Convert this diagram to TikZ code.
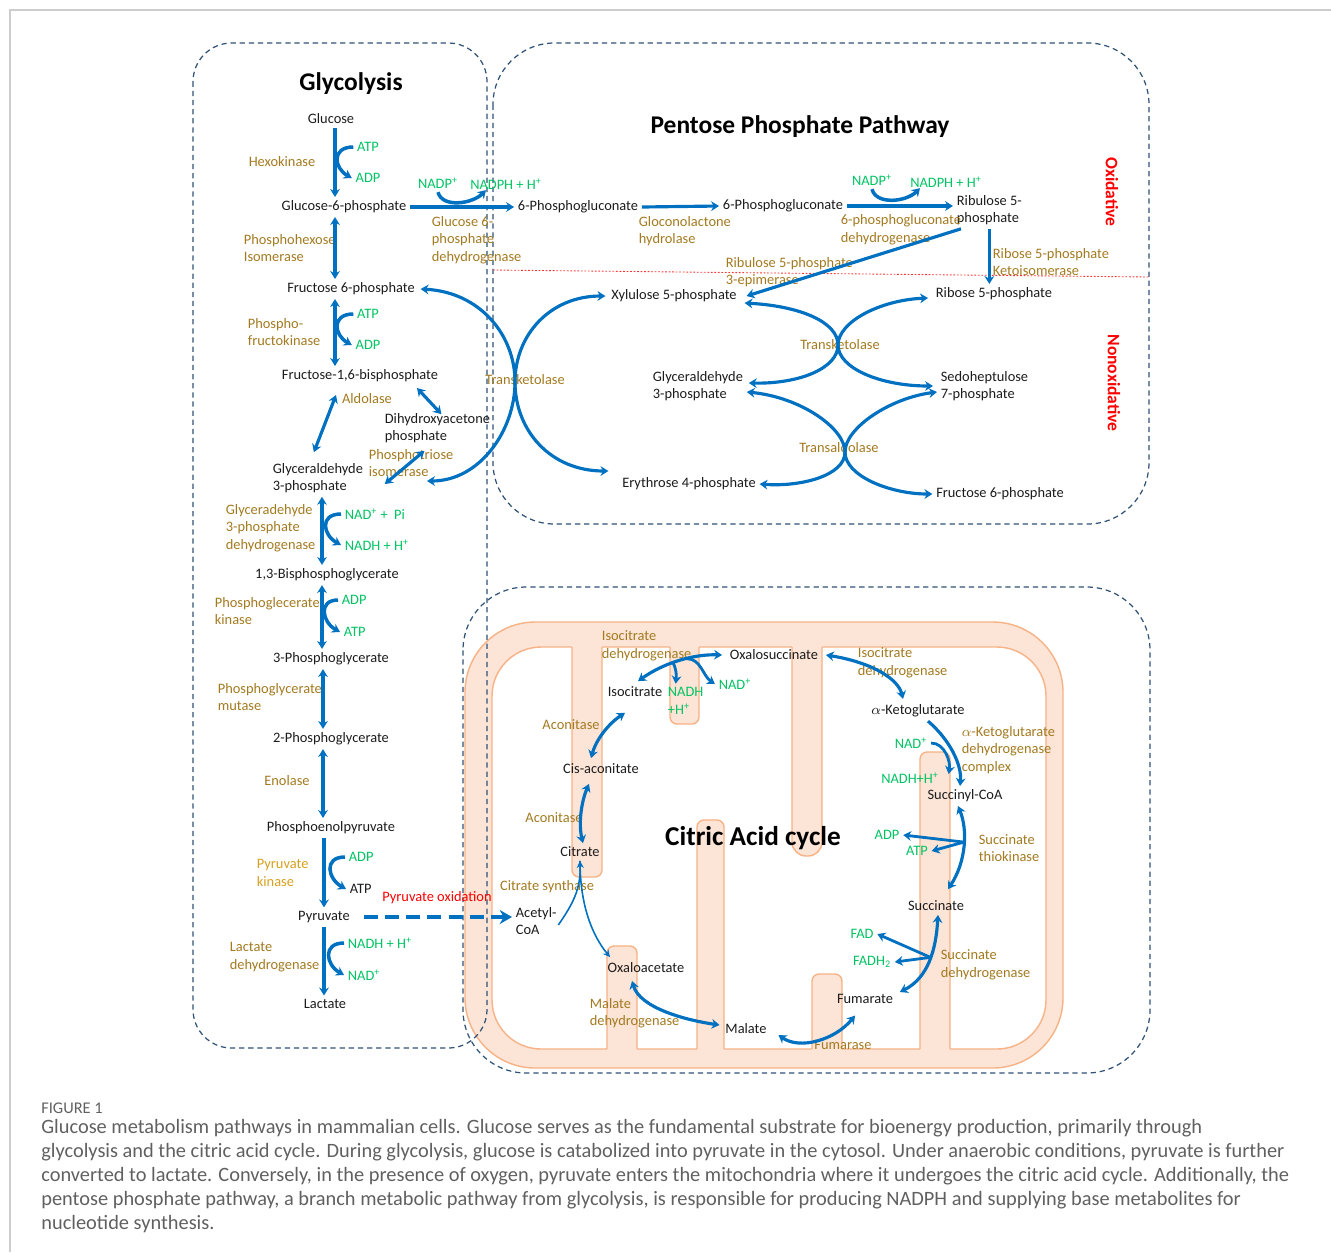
\documentclass[tikz,border=0pt]{standalone}
\usepackage{fontspec}
\setmainfont{Carlito}
\usetikzlibrary{arrows.meta}
\definecolor{pathblue}{RGB}{0,112,192}
\definecolor{enzbrown}{RGB}{163,122,32}
\definecolor{enzgold}{RGB}{214,160,30}
\definecolor{cofgreen}{RGB}{0,196,98}
\definecolor{boxblue}{RGB}{48,82,118}
\definecolor{mitofill}{RGB}{252,228,214}
\definecolor{mitoline}{RGB}{247,178,134}
\definecolor{capgray}{RGB}{96,96,96}
\definecolor{framegray}{RGB}{205,205,205}
\definecolor{metblack}{RGB}{28,28,28}

\begin{document}
\begin{tikzpicture}[x=0.02cm,y=-0.02cm,>={Stealth[length=4.5pt,width=5.5pt]},
  every node/.style={font=\fontsize{8.2}{10}\selectfont,inner sep=2pt,align=left},
  met/.style={text=metblack},
  enz/.style={text=enzbrown},
  cof/.style={text=cofgreen},
  title/.style={font=\fontsize{14.5}{17}\selectfont\bfseries,text=black},
  rxn/.style={->,draw=pathblue,line width=1.8pt},
  rev/.style={<->,draw=pathblue,line width=1.8pt},
  hook/.style={->,draw=pathblue,line width=2pt},
  branch/.style={->,draw=pathblue,line width=1.6pt},
  thinrxn/.style={-{Stealth[length=4pt,width=4pt]},draw=pathblue,line width=0.9pt},
  pathbox/.style={draw=boxblue,line width=0.7pt,dash pattern=on 3pt off 2.2pt},
  sidelabel/.style={font=\fontsize{10}{12}\selectfont\bfseries,text=red,rotate=-90}]
  \useasboundingbox (0,0) rectangle (1331,1252);
  \draw[framegray,line width=0.8pt] (1331,10) -- (10,10) -- (10,1252);

  % mitochondrion
  \filldraw[fill=mitofill,draw=mitoline,line width=0.8pt,rounded corners=40pt]
    (465,622) rectangle (1063,1068);
  \filldraw[fill=white,draw=mitoline,line width=0.8pt,rounded corners=28pt]
    (492,647) rectangle (1046,1049);
  \foreach \xa/\xb/\yb/\rc in {572/602/877/4pt, 670/699/724/4pt, 792/822/856/8pt}{
    \fill[mitofill,rounded corners=\rc] (\xa,640) -- (\xa,\yb) -- (\xb,\yb) -- (\xb,640);
    \draw[mitoline,line width=0.8pt,rounded corners=\rc] (\xa,647) -- (\xa,\yb) -- (\xb,\yb) -- (\xb,647);
  }
  \foreach \xa/\xb/\yt in {607/637/946, 697/724/820, 812/842/974, 920/950/752}{
    \fill[mitofill,rounded corners=4pt] (\xa,1056) -- (\xa,\yt) -- (\xb,\yt) -- (\xb,1056);
    \draw[mitoline,line width=0.8pt,rounded corners=4pt] (\xa,1049) -- (\xa,\yt) -- (\xb,\yt) -- (\xb,1049);
  }

  % pathway boxes
  \draw[pathbox,rounded corners=22pt] (193,43) rectangle (487,1048);
  \draw[pathbox,rounded corners=35pt] (493,43) rectangle (1149,524);
  \draw[pathbox,rounded corners=36pt] (463,587) rectangle (1150,1073);
  \draw[red!80,line width=0.5pt,dash pattern=on 1pt off 1pt] (493,270) -- (1149,277);

  % glycolysis
  \node[title] (glytitle) at (351,84) {Glycolysis};
  \node[met] (glc) at (331,119) {Glucose};
  \node[met] (g6p) at (344,207) {Glucose-6-phosphate};
  \node[met] (f6p) at (351,289) {Fructose 6-phosphate};
  \node[met] (fbp) at (360,376) {Fructose-1,6-bisphosphate};
  \node[met,anchor=west] (dhap) at (381,428) {Dihydroxyacetone\\phosphate};
  \node[met,anchor=west] (gap) at (269,478) {Glyceraldehyde\\3-phosphate};
  \node[met] (bpg) at (327,575) {1,3-Bisphosphoglycerate};
  \node[met] (pg3) at (331,659) {3-Phosphoglycerate};
  \node[met] (pg2) at (331,739) {2-Phosphoglycerate};
  \node[met] (pep) at (331,828) {Phosphoenolpyruvate};
  \node[met] (pyr) at (324,917) {Pyruvate};
  \node[met] (lac) at (325,1004) {Lactate};

  \node[enz] (hk) at (282,162) {Hexokinase};
  \node[enz,anchor=west] (gpi) at (240,248) {Phosphohexose\\Isomerase};
  \node[enz,anchor=west] (pfk) at (244,332) {Phospho-\\fructokinase};
  \node[enz] (ald) at (367,399) {Aldolase};
  \node[enz,anchor=west] (tpi) at (365,463) {Phosphotriose\\isomerase};
  \node[enz,anchor=west] (gapdh) at (222,528) {Glyceradehyde\\3-phosphate\\dehydrogenase};
  \node[enz,anchor=west] (pgk) at (211,611) {Phosphoglecerate\\kinase};
  \node[enz,anchor=west] (pgm) at (214,697) {Phosphoglycerate\\mutase};
  \node[enz] (eno) at (287,781) {Enolase};
  \node[enz,anchor=west,text=enzgold] (pk) at (253,873) {Pyruvate\\kinase};
  \node[enz,anchor=west] (ldh) at (226,957) {Lactate\\dehydrogenase};

  \node[cof] (atp1) at (368,147) {ATP};
  \node[cof] (adp1) at (368,178) {ADP};
  \node[cof] (atp2) at (368,314) {ATP};
  \node[cof] (adp2) at (368,345) {ADP};
  \node[cof,anchor=west] (nad1) at (341,514) {NAD\textsuperscript{+} +\ \ Pi};
  \node[cof,anchor=west] (nadh1) at (341,545) {NADH + H\textsuperscript{+}};
  \node[cof,anchor=west] (adp3) at (338,600) {ADP};
  \node[cof,anchor=west] (atp3) at (340,632) {ATP};
  \node[cof,anchor=west] (adp4) at (345,857) {ADP};
  \node[met,anchor=west] (atp4) at (346,889) {ATP};
  \node[cof,anchor=west] (nadh2) at (344,943) {NADH + H\textsuperscript{+}};
  \node[cof,anchor=west] (nad2) at (344,975) {NAD\textsuperscript{+}};

  \draw[rxn] (glc.south -| 335,0) -- (g6p.north -| 335,0);
  \draw[rev] (g6p.south -| 335,0) -- (f6p.north -| 335,0);
  \draw[rev] (f6p.south -| 335,0) -- (fbp.north -| 335,0);
  \draw[rev] ([shift={(-24,9)}]fbp.south) -- ([shift={(-4,-7)}]gap.north);
  \draw[rev] ([shift={(57,2)}]fbp.south) -- ([shift={(4,5)}]dhap.north);
  \draw[rev] ([shift={(-13,4)}]dhap.south) -- ([shift={(18,6)}]gap.east);
  \draw[rev] (gap.south -| 322,0) -- (bpg.north -| 322,0);
  \draw[rev] (bpg.south -| 322,0) -- (pg3.north -| 322,0);
  \draw[rev] (pg3.south -| 323,0) -- (pg2.north -| 323,0);
  \draw[rev] (pg2.south -| 323,0) -- (pep.north -| 323,0);
  \draw[rxn] (pep.south -| 324,0) -- (pyr.north -| 324,0);
  \draw[rxn] (pyr.south -| 324,0) -- (lac.north -| 324,0);
  % cofactor hooks
  \draw[hook] (atp1.west) .. controls +(-22,0) and +(-18,-10) .. (adp1.west);
  \draw[hook] (atp2.west) .. controls +(-22,0) and +(-18,-10) .. (adp2.west);
  \draw[hook] (nad1.west) .. controls +(-22,0) and +(-18,-10) .. (nadh1.west);
  \draw[hook] (adp3.west) .. controls +(-20,0) and +(-18,-10) .. (atp3.west);
  \draw[hook] (adp4.west) .. controls +(-22,0) and +(-18,-10) .. (atp4.west);
  \draw[hook] (nadh2.west) .. controls +(-22,0) and +(-18,-10) .. (nad2.west);

  % pentose phosphate pathway
  \node[title] (ppptitle) at (800,127) {Pentose Phosphate Pathway};
  \node[met] (pgl) at (578,207) {6-Phosphogluconate};
  \node[met] (pgn) at (783,206) {6-Phosphogluconate};
  \node[met,anchor=west] (ru5p) at (953,210) {Ribulose 5-\\phosphate};
  \node[met] (xu5p) at (674,296) {Xylulose 5-phosphate};
  \node[met] (r5p) at (994,294) {Ribose 5-phosphate};
  \node[met,anchor=west] (pgap) at (649,386) {Glyceraldehyde\\3-phosphate};
  \node[met,anchor=west] (s7p) at (937,386) {Sedoheptulose\\7-phosphate};
  \node[met] (e4p) at (689,484) {Erythrose 4-phosphate};
  \node[met] (pf6p) at (1000,494) {Fructose 6-phosphate};

  \node[enz,anchor=west] (g6pd) at (428,240) {Glucose 6-\\phosphate\\dehydrogenase};
  \node[enz,anchor=west] (glh) at (635,231) {Gloconolactone\\hydrolase};
  \node[enz,anchor=west] (pgd) at (837,230) {6-phosphogluconate\\dehydrogenase};
  \node[enz,anchor=west] (rpi) at (989,262) {Ribose 5-phosphate\\Ketoisomerase};
  \node[enz,anchor=west] (rpe) at (722,272) {Ribulose 5-phosphate\\3-epimerase};
  \node[enz] (tkr) at (840,345) {Transketolase};
  \node[enz] (tal) at (839,448) {Transaldolase};
  \node[enz] (tkl) at (525,380) {Transketolase};

  \node[cof] (nadp1) at (438,183) {NADP\textsuperscript{+}};
  \node[cof] (nadph1) at (506,184) {NADPH + H\textsuperscript{+}};
  \node[cof] (nadp2) at (872,180) {NADP\textsuperscript{+}};
  \node[cof] (nadph2) at (946,182) {NADPH + H\textsuperscript{+}};
  \node[sidelabel] (oxi) at (1112,192) {Oxidative};
  \node[sidelabel] (nonoxi) at (1114,383) {Nonoxidative};

  \draw[rxn] (g6p.east) -- (pgl.west);
  \draw[rxn] (pgl.east) -- (pgn.west);
  \draw[rxn] (pgn.east) -- (pgn.east -| ru5p.west);
  \draw[rxn] (ru5p.south) -- (r5p.north -| ru5p.south);
  \draw[rxn] ([shift={(8,0)}]ru5p.south west) -- ([shift={(6,0)}]xu5p.east);
  \draw[hook] (nadp1.south) .. controls +(4,16) and +(-14,14) .. ([shift={(-20,-3)}]nadph1.south);
  \draw[hook] (nadp2.south) .. controls +(4,16) and +(-14,14) .. ([shift={(-26,-3)}]nadph2.south);
  % transketolase and transaldolase
  \coordinate (tkgap) at (427,481);
  \draw[rev] ([shift={(4,7)}]xu5p.east) .. controls (800,306) and (838,322) .. (838,345)
    .. controls (838,368) and (800,384) .. ([shift={(2,-3)}]pgap.east);
  \draw[rev] ([shift={(-4,4)}]r5p.west) .. controls (880,300) and (838,322) .. (838,345)
    .. controls (838,368) and (880,386) .. ([shift={(-4,0)}]s7p.west);
  \draw[rev] ([shift={(0,6)}]pgap.east) .. controls (800,397) and (845,428) .. (845,452)
    .. controls (845,476) and (800,487) .. (e4p.east);
  \draw[rev] ([shift={(0,6)}]s7p.west) .. controls (890,398) and (845,428) .. (845,452)
    .. controls (845,476) and (890,494) .. (pf6p.west);
  \draw[rev] ([shift={(2,0)}]f6p.east) .. controls (480,292) and (515,335) .. (515,382)
    .. controls (515,430) and (480,481) .. (tkgap);
  \draw[rev] ([shift={(-2,0)}]xu5p.west) .. controls (550,296) and (515,335) .. (515,382)
    .. controls (515,430) and (550,471) .. ([shift={(-10,-13)}]e4p.west);

  % citric acid cycle
  \node[font=\fontsize{15.5}{18}\selectfont\bfseries] (cactitle) at (753,838) {Citric Acid cycle};
  \node[met,anchor=west] (acoa) at (512,921) {Acetyl-\\CoA};
  \node[met] (cit) at (580,852) {Citrate};
  \node[met] (cis) at (601,769) {Cis-aconitate};
  \node[met] (icit) at (635,692) {Isocitrate};
  \node[met] (oxs) at (774,655) {Oxalosuccinate};
  \node[met] (akg) at (918,711) {$\alpha$-Ketoglutarate};
  \node[met] (scoa) at (965,796) {Succinyl-CoA};
  \node[met] (suc) at (936,906) {Succinate};
  \node[met] (fum) at (865,999) {Fumarate};
  \node[met] (mal) at (746,1029) {Malate};
  \node[met] (oaa) at (646,968) {Oxaloacetate};

  \node[enz] (cs) at (547,887) {Citrate synthase};
  \node[enz] (aco1) at (554,818) {Aconitase};
  \node[enz] (aco2) at (571,725) {Aconitase};
  \node[enz,anchor=west] (idh1) at (598,646) {Isocitrate\\dehydrogenase};
  \node[enz,anchor=west] (idh2) at (854,663) {Isocitrate\\dehydrogenase};
  \node[enz,anchor=west] (kgdh) at (958,750) {$\alpha$-Ketoglutarate\\dehydrogenase\\complex};
  \node[enz,anchor=west] (stk) at (975,848) {Succinate\\thiokinase};
  \node[enz,anchor=west] (sdh) at (937,965) {Succinate\\dehydrogenase};
  \node[enz] (fh) at (843,1045) {Fumarase};
  \node[enz,anchor=west] (mdh) at (586,1013) {Malate\\dehydrogenase};
  \node[text=red] (pox) at (437,898) {Pyruvate oxidation};

  \node[cof,anchor=west] (nadh3) at (664,701) {NADH\\+H\textsuperscript{+}};
  \node[cof] (nad3) at (735,684) {NAD\textsuperscript{+}};
  \node[cof] (nad4) at (911,743) {NAD\textsuperscript{+}};
  \node[cof] (nadh4) at (910,778) {NADH+H\textsuperscript{+}};
  \node[cof] (adp5) at (887,835) {ADP};
  \node[cof] (atp5) at (917,851) {ATP};
  \node[cof] (fad) at (862,934) {FAD};
  \node[cof] (fadh) at (872,962) {FADH\textsubscript{2}};

  \draw[pathblue,line width=2.3pt,dash pattern=on 8pt off 4pt,-{Stealth[length=7pt,width=8pt]}]
    ([xshift=6pt]pyr.east) -- (pyr.east -| acoa.west);
  \draw[thinrxn] ([shift={(-2,4)}]acoa.east) .. controls (572,905) and (581,890) .. (cit.south);
  \draw[thinrxn] (cit.south) .. controls (580,905) and (592,935) .. ([shift={(-36,-2)}]oaa.north);
  \draw[rev] ([shift={(3,0)}]cit.north) .. controls (578,822) and (582,800) .. ([shift={(-12,6)}]cis.south);
  \draw[rev] ([shift={(-10,-2)}]cis.north) .. controls (596,740) and (608,724) .. ([shift={(-10,12)}]icit.south);
  \draw[rev] ([shift={(3,-2)}]icit.north) .. controls (665,662) and (695,654) .. ([shift={(-4,0)}]oxs.west)
    coordinate[pos=0.42] (idhnadh) coordinate[pos=0.58] (idhnad);
  \draw[branch] (idhnadh) .. controls +(3,6) and +(1,-8) .. ([shift={(-10,0)}]nadh3.north);
  \draw[branch] (idhnad) .. controls +(14,0) and +(-12,-8) .. (nad3.west);
  \draw[rev] ([shift={(4,0)}]oxs.east) .. controls (870,662) and (898,678) .. ([shift={(-15,-2)}]akg.north);
  \draw[rxn] ([shift={(10,0)}]akg.south) .. controls (950,740) and (962,765) .. ([shift={(-5,0)}]scoa.north);
  \draw[branch] (nad4.east) .. controls +(14,0) and +(2,-12) .. ([shift={(6,-4)}]nadh4.east);
  \draw[rev] ([shift={(-7,0)}]scoa.south) .. controls (968,830) and (966,862) .. ([shift={(12,-8)}]suc.north)
    coordinate[pos=0.45] (stkb);
  \draw[branch] (stkb) -- (adp5.east);
  \draw[branch] (stkb) -- (atp5.east);
  \draw[rev] ([shift={(2,0)}]suc.south) .. controls (936,950) and (928,978) .. ([shift={(3,-7)}]fum.east)
    coordinate[pos=0.45] (sdhb);
  \draw[branch] (sdhb) -- (fad.east);
  \draw[branch] (sdhb) -- (fadh.east);
  \draw[rev] ([shift={(-10,8)}]fum.south) .. controls (835,1040) and (800,1050) .. ([shift={(8,6)}]mal.east);
  \draw[rev] ([shift={(-2,-4)}]mal.west) .. controls (685,1020) and (640,1008) .. ([shift={(-14,4)}]oaa.south);

  % caption
  \node[anchor=west,font=\fontsize{9.3}{10}\selectfont,text=capgray,inner sep=0] (figlabel) at (41,1108) {FIGURE 1};
  \node[anchor=north west,font=\fontsize{11.6}{13.6}\selectfont,text=capgray,inner sep=0] (caption) at (41,1119)
    {Glucose metabolism pathways in mammalian cells. Glucose serves as the fundamental substrate for bioenergy production, primarily through\\
     glycolysis and the citric acid cycle. During glycolysis, glucose is catabolized into pyruvate in the cytosol. Under anaerobic conditions, pyruvate is further\\
     converted to lactate. Conversely, in the presence of oxygen, pyruvate enters the mitochondria where it undergoes the citric acid cycle. Additionally, the\\
     pentose phosphate pathway, a branch metabolic pathway from glycolysis, is responsible for producing NADPH and supplying base metabolites for\\
     nucleotide synthesis.};
\end{tikzpicture}
\end{document}
